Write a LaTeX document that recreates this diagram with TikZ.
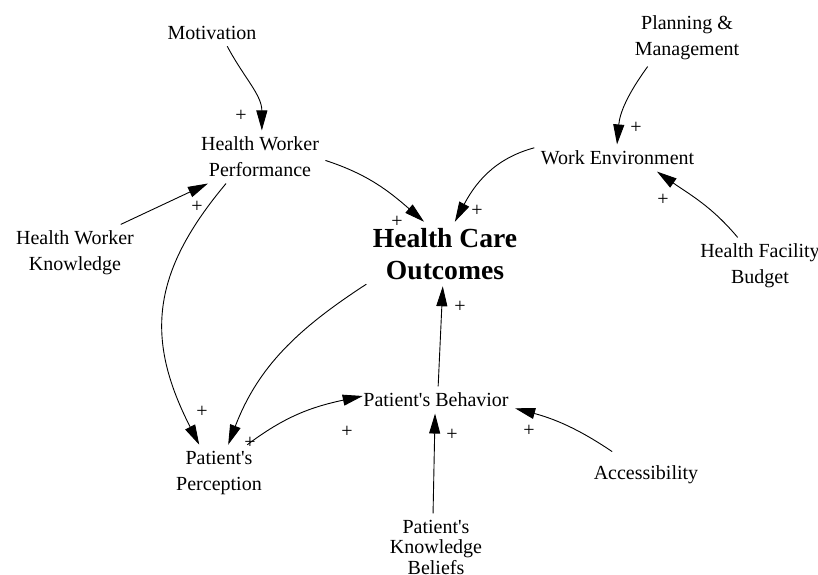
\documentclass[tikz,border=0pt]{standalone}
\usepackage{fontspec}
\setmainfont{Liberation Serif}
\usetikzlibrary{arrows.meta}

\begin{document}
\begin{tikzpicture}[x=1pt, y=1pt,
        font=\fontsize{20}{26}\selectfont,
        factor/.style={align=center, inner sep=2pt, outer sep=4.5pt},
        link/.style={line width=0.9pt, -{Triangle[length=20pt, width=11pt]}},
        sign/.style={inner sep=0pt}]
        \useasboundingbox (0, 0) rectangle (818, 574);

        % variables
        \node[factor] (mot) at (212, 541) {Motivation};
        \node[factor] (hwp) at (260, 417) {Health Worker\\Performance};
        \node[factor] (hwk) at (75, 321) {Health Worker\\Knowledge};
        \node[factor, font=\fontsize{27.6}{32}\selectfont\bfseries] (hco) at (445, 320) {Health Care\\Outcomes};
        \node[factor] (pm) at (687, 536) {Planning \&\\Management};
        \node[factor] (we) at (617.5, 416) {Work Environment};
        \node[factor] (hfb) at (760, 308) {Health Facility\\Budget};
        \node[factor] (pb) at (436, 174) {Patient\textquotesingle s Behavior};
        \node[factor] (pp) at (219, 101) {Patient\textquotesingle s\\Perception};
        \node[factor] (acc) at (646, 99) {Accessibility};
        \node[factor, font=\fontsize{20}{20.5}\selectfont] (pkb) at (436, 27) {Patient\textquotesingle s\\Knowledge\\Beliefs};

        % causal links
        \draw[link] (mot.-41) to[out=-62, in=90] (hwp.86);
        \draw[link] (hwk.32) -- (hwp.207);
        \draw[link] (hwp.-3) to[out=-18, in=139] (hco.123);
        \draw[link] (hwp.218) to[out=-130, in=117, looseness=1.15] (pp.125);
        \draw[link] (we.173) to[out=195, in=62] (hco.73);
        \draw[link] (pm.216) to[out=-126, in=85] (we.92);
        \draw[link] (hfb.128) to[out=130, in=-35] (we.-19);
        \draw[link] (hco.201) to[out=213, in=69] (pp.72);
        \draw[link, shorten >=-6pt] (pp.45) to[out=37, in=192] (pb.178);
        \draw[link] (pb.81) -- (hco.-94);
        \draw[link] (pkb.95) -- (pb.-94);
        \draw[link, shorten <=14pt] (acc.145) to[out=146, in=-15] (pb.-6);

        % polarities
        \node[sign] (s1) at (241, 458) {+};
        \node[sign] (s2) at (197, 367) {+};
        \node[sign] (s3) at (397, 352) {+};
        \node[sign] (s4) at (202, 162) {+};
        \node[sign] (s5) at (477, 363) {+};
        \node[sign] (s6) at (636, 446) {+};
        \node[sign] (s7) at (663, 374) {+};
        \node[sign] (s8) at (250, 131) {+};
        \node[sign] (s9) at (347, 142) {+};
        \node[sign] (s10) at (460, 267) {+};
        \node[sign] (s11) at (452, 139) {+};
        \node[sign] (s12) at (529, 143) {+};
\end{tikzpicture}
\end{document}
